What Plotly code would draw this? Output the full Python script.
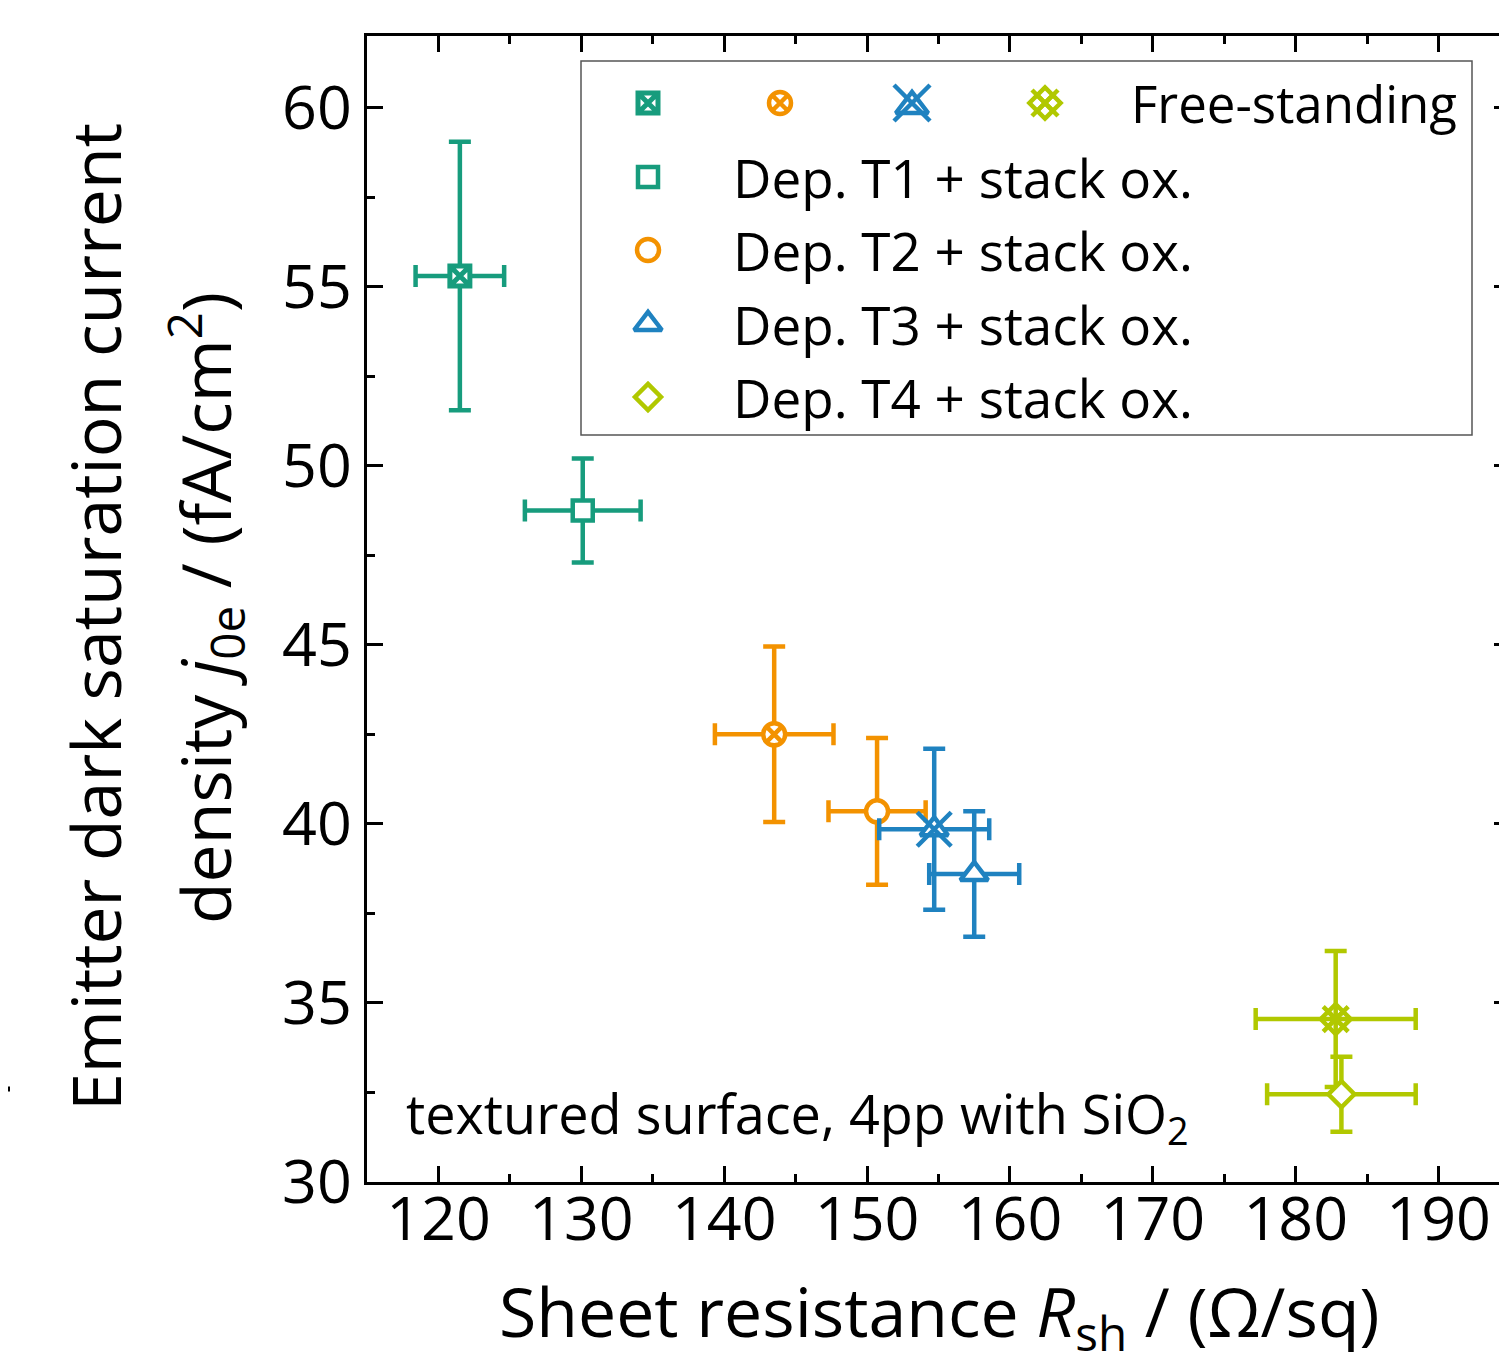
import plotly.graph_objects as go

# ---------------- data ----------------
series_names = ["Free-standing T1", "Dep. T1 + stack ox.",
                "Free-standing T2", "Dep. T2 + stack ox.",
                "Free-standing T3", "Dep. T3 + stack ox.",
                "Free-standing T4", "Dep. T4 + stack ox."]
rsh = [121.5, 130.1, 143.5, 150.7, 154.7, 157.5, 182.8, 183.2]
rsh_err = [3.1, 4.05, 4.15, 3.4, 3.85, 3.15, 5.6, 5.2]
j0e = [55.3, 48.75, 42.5, 40.35, 39.85, 38.6, 34.55, 32.45]
j0e_err = [3.75, 1.45, 2.45, 2.05, 2.25, 1.75, 1.9, 1.05]

legend_labels = ["Free-standing", "Dep. T1 + stack ox.", "Dep. T2 + stack ox.",
                 "Dep. T3 + stack ox.", "Dep. T4 + stack ox."]

x_ticks = [120, 130, 140, 150, 160, 170, 180, 190]
y_ticks = [30, 35, 40, 45, 50, 55, 60]

GREEN = "#179c7d"
ORANGE = "#f39200"
BLUE = "#1f82c0"
LIME = "#b1c800"
colors = [GREEN, GREEN, ORANGE, ORANGE, BLUE, BLUE, LIME, LIME]
symbols = ["square-x", "square", "circle-x", "circle", "triangle-up",
           "triangle-up", "diamond-x-open", "diamond"]
sizes = [20, 20, 22, 22, 24, 24, 23, 20]
line_w = [5, 4.5, 4.5, 4.5, 4.5, 4.5, 4.5, 4.5]
# extra overlay marks drawn on top of some symbols: index -> (symbol, size)
overlays = {4: ("x-thin-open", 34), 6: ("x-thin-open", 25)}

FONT = "Open Sans"

# page offset of the figure (body margin) and plot-area geometry in page pixels
OFF = 8
W, H = 1502, 1344
PL, PT, PB, PR = 367, 36, 1182, 1510   # plot-area edges, page pixels
L = PL - OFF
T = PT - OFF
B = H - (PB - OFF)
R = W - (PR - OFF)
PW = PR - PL
PH = PB - PT


def fx(px):
    return (px - PL) / PW


def fy(py):
    return (PB - py) / PH


fig = go.Figure()

for i in range(len(rsh)):
    c = colors[i]
    fill = c if symbols[i].endswith("open") else "white"
    fig.add_trace(go.Scatter(
        x=[rsh[i]], y=[j0e[i]], mode="markers", name=series_names[i],
        error_x=dict(type="data", array=[rsh_err[i]], color=c, thickness=4.5, width=11),
        error_y=dict(type="data", array=[j0e_err[i]], color=c, thickness=4.5, width=11),
        marker=dict(symbol=symbols[i], size=sizes[i], color=fill,
                    line=dict(color=c, width=line_w[i])),
        showlegend=False, cliponaxis=False))
    if i in overlays:
        s, sz = overlays[i]
        fig.add_trace(go.Scatter(
            x=[rsh[i]], y=[j0e[i]], mode="markers", showlegend=False,
            marker=dict(symbol=s, size=sz, color=c, line=dict(color=c, width=4.5)),
            cliponaxis=False))

# ---------------- hand-made legend ----------------
leg_row_y = [103, 177, 250, 324, 397]
fs_sym_x = [648, 780, 912, 1045]
fs_syms = [("square-x", GREEN, 20, 5), ("circle-x", ORANGE, 22, 4.5),
           ("triangle-up", BLUE, 28, 4.5), ("diamond-x-open", LIME, 24, 4.5)]
for (s, c, sz, lw), px in zip(fs_syms, fs_sym_x):
    fig.add_trace(go.Scatter(
        x=[fx(px)], y=[fy(leg_row_y[0] + (3 if s == "triangle-up" else 0))],
        xaxis="x2", yaxis="y2", mode="markers",
        marker=dict(symbol=s, size=sz, color=(c if s.endswith("open") else "white"),
                    line=dict(color=c, width=lw)),
        showlegend=False, cliponaxis=False, hoverinfo="skip"))
for px, c, sz in [(fs_sym_x[2], BLUE, 36), (fs_sym_x[3], LIME, 26)]:
    fig.add_trace(go.Scatter(
        x=[fx(px)], y=[fy(leg_row_y[0])], xaxis="x2", yaxis="y2", mode="markers",
        marker=dict(symbol="x-thin-open", size=sz, color=c, line=dict(color=c, width=4.5)),
        showlegend=False, cliponaxis=False, hoverinfo="skip"))

dep_syms = [("square", GREEN, 20), ("circle", ORANGE, 22),
            ("triangle-up", BLUE, 24), ("diamond", LIME, 20)]
for (s, c, sz), py in zip(dep_syms, leg_row_y[1:]):
    fig.add_trace(go.Scatter(
        x=[fx(648)], y=[fy(py)], xaxis="x2", yaxis="y2", mode="markers",
        marker=dict(symbol=s, size=sz, color="white", line=dict(color=c, width=4.5)),
        showlegend=False, cliponaxis=False, hoverinfo="skip"))

annotations = []
annotations.append(dict(x=fx(1129), y=fy(leg_row_y[0]), xref="paper", yref="paper",
                        text=legend_labels[0], showarrow=False, xanchor="left",
                        yanchor="middle", font=dict(size=51, color="black", family=FONT)))
for lab, py in zip(legend_labels[1:], leg_row_y[1:]):
    annotations.append(dict(x=fx(731), y=fy(py), xref="paper", yref="paper",
                            text=lab, showarrow=False, xanchor="left", yanchor="middle",
                            font=dict(size=53, color="black", family=FONT)))

annotations.append(dict(x=fx(404), y=fy(1116), xref="paper", yref="paper",
                        text="textured surface, 4pp with SiO<sub>2</sub>",
                        showarrow=False, xanchor="left", yanchor="middle",
                        font=dict(size=54, color="black", family=FONT)))

# y-axis title as two rotated lines
annotations.append(dict(x=fx(95), y=fy(617), xref="paper", yref="paper",
                        text="Emitter dark saturation current", textangle=-90,
                        showarrow=False, xanchor="center", yanchor="middle",
                        font=dict(size=68, color="black", family=FONT)))
annotations.append(dict(x=fx(205), y=fy(608), xref="paper", yref="paper",
                        text="density <i>j</i><sub>0e</sub> / (fA/cm<sup>2</sup>)",
                        textangle=-90, showarrow=False, xanchor="center", yanchor="middle",
                        font=dict(size=68, color="black", family=FONT)))
# x-axis title (runs off the bottom edge, as in the original)
annotations.append(dict(x=fx(939), y=fy(1314), xref="paper", yref="paper",
                        text="Sheet resistance <i>R</i><sub>sh</sub> / (Ω/sq)",
                        showarrow=False, xanchor="center", yanchor="middle",
                        font=dict(size=68, color="black", family=FONT)))

shapes = [
    dict(type="rect", xref="paper", yref="paper", x0=fx(581), x1=fx(1472),
         y0=fy(435), y1=fy(61), line=dict(color="#555555", width=1.5)),
    dict(type="line", xref="paper", yref="paper", x0=fx(0), x1=fx(10),
         y0=fy(1089), y1=fy(1089), line=dict(color="black", width=5)),
]

axis_common = dict(showline=True, linecolor="black", linewidth=3, mirror="ticks",
                   ticks="inside", ticklen=16, tickwidth=3, tickcolor="black",
                   showgrid=False, zeroline=False,
                   tickfont=dict(size=61, color="black", family=FONT))

fig.update_layout(
    width=W, height=H,
    margin=dict(l=L, r=R, t=T, b=B, autoexpand=False),
    plot_bgcolor="white", paper_bgcolor="white",
    showlegend=False,
    xaxis=dict(range=[115, 195], tickvals=x_ticks, ticklabelstandoff=-18,
               minor=dict(dtick=5, tick0=115, ticks="inside", ticklen=8, tickwidth=3,
                          tickcolor="black"),
               **axis_common),
    yaxis=dict(range=[30, 62], tickvals=y_ticks,
               minor=dict(dtick=2.5, tick0=30, ticks="inside", ticklen=8, tickwidth=3,
                          tickcolor="black"),
               **axis_common),
    xaxis2=dict(overlaying="x", range=[0, 1], visible=False),
    yaxis2=dict(overlaying="y", range=[0, 1], visible=False),
    annotations=annotations,
    shapes=shapes,
)

fig.write_html("out.html")
